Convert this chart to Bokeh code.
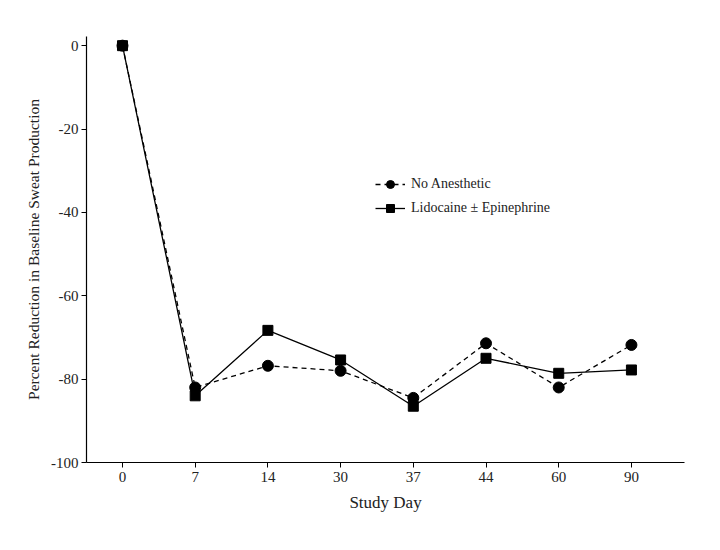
from bokeh.plotting import figure
from bokeh.models import Range1d, FixedTicker, Legend, LegendItem
from bokeh.embed import file_html
from bokeh.resources import INLINE

days = ["0", "7", "14", "30", "37", "44", "60", "90"]
no_anesthetic = [0, -82, -76.8, -78, -84.5, -71.4, -82, -71.8]
lidocaine = [0, -84, -68.3, -75.4, -86.5, -75, -78.6, -77.8]
y_ticks = [0, -20, -40, -60, -80, -100]
y_tick_labels = ["0", "-20", "-40", "-60", "-80", "-100"]

xs = list(range(len(days)))
FONT = "Liberation Serif"

p = figure(width=700, height=538, output_backend="svg", toolbar_location=None,
           x_range=Range1d(-0.495, 7.73), y_range=Range1d(-100, 2.2),
           min_border_left=86, min_border_right=16, min_border_top=36, min_border_bottom=76)
p.outline_line_color = None
p.grid.visible = False

l1 = p.line(xs, no_anesthetic, line_color="black", line_width=1.3, line_dash="5 4")
c1 = p.scatter(xs, no_anesthetic, marker="circle", size=11, color="black")
l2 = p.line(xs, lidocaine, line_color="black", line_width=1.3)
s2 = p.scatter(xs, lidocaine, marker="square", size=10, color="black")

p.xaxis.ticker = FixedTicker(ticks=xs)
p.xaxis.major_label_overrides = {i: d for i, d in enumerate(days)}
p.yaxis.ticker = FixedTicker(ticks=y_ticks)
p.yaxis.major_label_overrides = {t: s for t, s in zip(y_ticks, y_tick_labels)}

for ax in (p.xaxis, p.yaxis):
    ax.axis_line_color = "black"
    ax.axis_line_width = 1.2
    ax.major_tick_line_color = "black"
    ax.major_tick_out = 5
    ax.major_tick_in = 0
    ax.minor_tick_line_color = None
    ax.major_label_text_font = FONT
    ax.major_label_text_font_size = "15px"
    ax.major_label_text_color = "#222222"
    ax.axis_label_text_font = FONT
    ax.axis_label_text_font_style = "normal"
    ax.axis_label_text_color = "#222222"

p.xaxis.axis_label_text_font_size = "17px"
p.yaxis.axis_label_text_font_size = "15.5px"
p.xaxis.axis_label = "Study Day"
p.yaxis.axis_label = "Percent Reduction in Baseline Sweat Production"
p.xaxis.axis_label_standoff = 8
p.yaxis.axis_label_standoff = 6
p.xaxis.major_label_standoff = 4
p.yaxis.major_label_standoff = 3

legend = Legend(items=[
    LegendItem(label="No Anesthetic", renderers=[l1, c1]),
    LegendItem(label="Lidocaine \u00b1 Epinephrine", renderers=[l2, s2]),
], location=(279, 234))
legend.border_line_alpha = 0
legend.background_fill_alpha = 0
legend.label_text_font = FONT
legend.label_text_font_size = "14px"
legend.label_text_color = "#222222"
legend.glyph_width = 30
legend.spacing = 4
legend.label_standoff = 6
p.add_layout(legend, "center")

open("out.html", "w").write(file_html(p, INLINE))
